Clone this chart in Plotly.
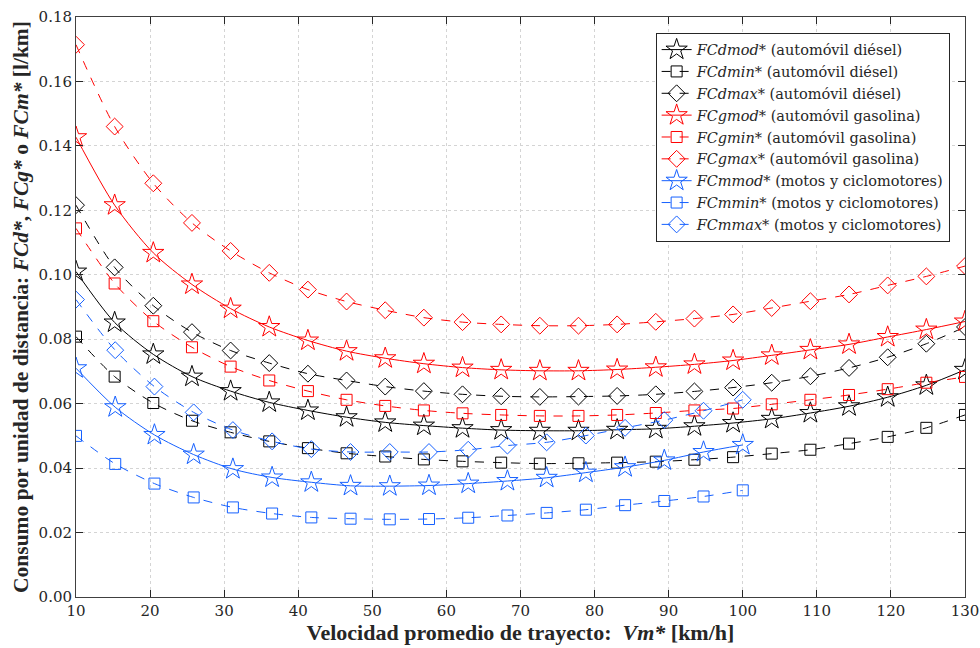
import plotly.graph_objects as go

# x positions of markers (km/h)
x_car_start, x_car_end, n_car = 10, 130, 24
x_moto_start, x_moto_end, n_moto = 10, 100, 18
x_car = [x_car_start + i * (x_car_end - x_car_start) / (n_car - 1) for i in range(n_car)]
x_moto = [x_moto_start + i * (x_moto_end - x_moto_start) / (n_moto - 1) for i in range(n_moto)]

FCdmod = [0.1010, 0.0852, 0.0753, 0.0684, 0.0639, 0.0604, 0.0579, 0.0558, 0.0542, 0.0532,
          0.0524, 0.0518, 0.0516, 0.0516, 0.0519, 0.0522, 0.0530, 0.0540, 0.0553, 0.0571,
          0.0592, 0.0620, 0.0657, 0.0705]
FCdmin = [0.0808, 0.0684, 0.0602, 0.0547, 0.0511, 0.0483, 0.0462, 0.0446, 0.0436, 0.0427,
          0.0421, 0.0417, 0.0414, 0.0415, 0.0417, 0.0420, 0.0426, 0.0434, 0.0445, 0.0457,
          0.0476, 0.0497, 0.0525, 0.0565]
FCdmax = [0.1216, 0.1023, 0.0904, 0.0822, 0.0765, 0.0726, 0.0693, 0.0672, 0.0653, 0.0639,
          0.0629, 0.0623, 0.0621, 0.0622, 0.0624, 0.0629, 0.0638, 0.0650, 0.0665, 0.0685,
          0.0711, 0.0744, 0.0786, 0.0838]
FCgmod = [0.1427, 0.1216, 0.1068, 0.0970, 0.0895, 0.0838, 0.0796, 0.0763, 0.0741, 0.0724,
          0.0712, 0.0705, 0.0702, 0.0702, 0.0706, 0.0713, 0.0722, 0.0734, 0.0750, 0.0767,
          0.0784, 0.0807, 0.0830, 0.0855]
FCgmin = [0.1144, 0.0973, 0.0856, 0.0775, 0.0715, 0.0672, 0.0639, 0.0612, 0.0593, 0.0579,
          0.0570, 0.0565, 0.0562, 0.0562, 0.0565, 0.0571, 0.0579, 0.0585, 0.0598, 0.0612,
          0.0627, 0.0645, 0.0665, 0.0683]
FCgmax = [0.1714, 0.1460, 0.1284, 0.1161, 0.1074, 0.1006, 0.0954, 0.0917, 0.0890, 0.0867,
          0.0853, 0.0846, 0.0842, 0.0842, 0.0846, 0.0854, 0.0864, 0.0877, 0.0897, 0.0918,
          0.0939, 0.0967, 0.0995, 0.1027]
FCmmod = [0.0710, 0.0589, 0.0503, 0.0442, 0.0397, 0.0371, 0.0356, 0.0345, 0.0344, 0.0346,
          0.0352, 0.0360, 0.0370, 0.0386, 0.0403, 0.0424, 0.0450, 0.0472]
FCmmin = [0.0500, 0.0413, 0.0352, 0.0309, 0.0278, 0.0259, 0.0247, 0.0243, 0.0241, 0.0242,
          0.0246, 0.0253, 0.0261, 0.0271, 0.0285, 0.0298, 0.0312, 0.0331]
FCmmax = [0.0923, 0.0766, 0.0653, 0.0573, 0.0518, 0.0483, 0.0459, 0.0450, 0.0450, 0.0450,
          0.0457, 0.0470, 0.0480, 0.0501, 0.0525, 0.0549, 0.0578, 0.0612]

x_ticks = list(range(10, 131, 10))
y_ticks = [0.00, 0.02, 0.04, 0.06, 0.08, 0.10, 0.12, 0.14, 0.16, 0.18]

BLACK = "#000000"
RED = "#ff0000"
BLUE = "#1560ff"

series = [
    ("FCdmod*", "automóvil diésel", x_car, FCdmod, BLACK, "solid", "star-open", 16),
    ("FCdmin*", "automóvil diésel", x_car, FCdmin, BLACK, "dash", "square-open", 11),
    ("FCdmax*", "automóvil diésel", x_car, FCdmax, BLACK, "dash", "diamond-open", 13),
    ("FCgmod*", "automóvil gasolina", x_car, FCgmod, RED, "solid", "star-open", 16),
    ("FCgmin*", "automóvil gasolina", x_car, FCgmin, RED, "dash", "square-open", 11),
    ("FCgmax*", "automóvil gasolina", x_car, FCgmax, RED, "dash", "diamond-open", 13),
    ("FCmmod*", "motos y ciclomotores", x_moto, FCmmod, BLUE, "solid", "star-open", 16),
    ("FCmmin*", "motos y ciclomotores", x_moto, FCmmin, BLUE, "dash", "square-open", 11),
    ("FCmmax*", "motos y ciclomotores", x_moto, FCmmax, BLUE, "dash", "diamond-open", 13),
]

fig = go.Figure()
for name, desc, xs, ys, col, dash, sym, sz in series:
    fig.add_trace(go.Scatter(
        x=xs, y=ys, mode="lines+markers",
        name=f"<i>{name}</i> ({desc})",
        line=dict(color=col, width=1, dash="dash" if dash == "dash" else "solid", shape="spline", smoothing=0.8),
        marker=dict(symbol=sym, size=sz, color=col, line=dict(color=col, width=1)),
    ))

axis_common = dict(
    showgrid=True, gridcolor="#d4d4d4", griddash="dot", gridwidth=1,
    showline=True, linecolor="#404040", linewidth=1, mirror="ticks",
    ticks="inside", ticklen=7, tickcolor="#262626",
    zeroline=False, automargin=False,
    tickfont=dict(family="DejaVu Serif", size=15, color="#262626"),
)

fig.update_xaxes(range=[10, 130], tickvals=x_ticks, ticktext=[str(v) for v in x_ticks],
                 title=dict(text="<b>Velocidad promedio de trayecto:  <i>Vm*</i> [km/h]</b>",
                            font=dict(family="Liberation Serif", size=22, color="#262626"), standoff=0),
                 **axis_common)
fig.update_yaxes(range=[0, 0.18], tickvals=y_ticks, ticktext=[f"{v:.2f}" for v in y_ticks],
                 title=dict(text="<b>Consumo por unidad de distancia: <i>FCd*</i>, <i>FCg*</i> o <i>FCm*</i> [l/km]</b>",
                            font=dict(family="Liberation Serif", size=21.5, color="#262626"), standoff=4),
                 **axis_common)

fig.update_layout(
    width=980, height=648,
    margin=dict(l=76, r=15, t=17, b=51),
    paper_bgcolor="white", plot_bgcolor="white",
    showlegend=True,
    legend=dict(x=0.652, y=0.973, xanchor="left", yanchor="top",
                bgcolor="white", bordercolor="#262626", borderwidth=1,
                font=dict(family="DejaVu Serif", size=14.5, color="#262626"),
                itemwidth=30, tracegroupgap=0),
)

fig.write_html("out.html")
